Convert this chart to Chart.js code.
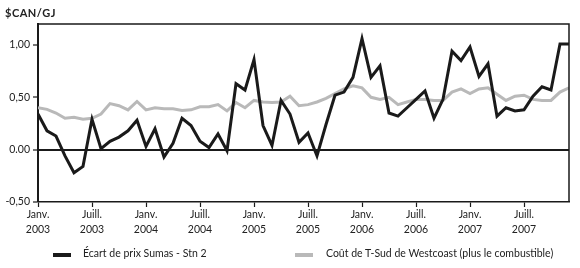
<!DOCTYPE html>
<html>
<head>
<meta charset="utf-8">
<script src="https://cdn.jsdelivr.net/npm/chart.js@4/dist/chart.umd.min.js"></script>
<style>
html,body{margin:0;padding:0;background:#fff;}
#wrap{position:relative;width:580px;height:268px;font-family:Lato,"DejaVu Sans",sans-serif;color:#222;}
#c{position:absolute;left:0;top:0;}
#ytitle{position:absolute;left:5px;top:6px;font-weight:bold;font-size:11px;letter-spacing:0.5px;color:#222;}
.leg{position:absolute;top:247px;font-size:10.5px;color:#222;white-space:nowrap;}
.sw{position:absolute;top:6px;width:18px;height:4px;}
</style>
</head>
<body>
<div id="wrap">
<canvas id="c" width="580" height="268"></canvas>
<div id="ytitle">$CAN/GJ</div>
<div class="leg" style="left:53px;"><span class="sw" style="left:0;background:#1a1a1a;"></span><span style="position:absolute;left:30px;top:0;" id="l1"></span></div>
<div class="leg" style="left:295px;"><span class="sw" style="left:0;background:#b9b9b9;"></span><span style="position:absolute;left:31px;top:0;" id="l2"></span></div>
</div>
<script>
// Month index 0 = Janv. 2003 ... 59 = Déc. 2007
const months = Array.from({length:60},(_,i)=>i);
const sumasSpread = [
  0.34,0.18,0.13,-0.06,-0.22,-0.16,0.29,0.01,0.08,0.12,
  0.18,0.28,0.03,0.20,-0.07,0.06,0.30,0.23,0.08,0.02,
  0.15,-0.01,0.63,0.57,0.86,0.23,0.04,0.47,0.34,0.07,
  0.16,-0.06,0.24,0.52,0.55,0.69,1.06,0.69,0.80,0.35,
  0.32,0.40,0.48,0.56,0.30,0.48,0.94,0.85,0.98,0.70,
  0.82,0.32,0.40,0.37,0.38,0.51,0.60,0.57,1.01,1.01
];
const westcoastCost = [
  0.40,0.385,0.35,0.30,0.31,0.29,0.30,0.34,0.44,0.42,
  0.38,0.46,0.38,0.40,0.39,0.39,0.375,0.38,0.41,0.41,
  0.43,0.37,0.45,0.40,0.47,0.455,0.45,0.455,0.51,0.42,
  0.43,0.455,0.49,0.535,0.58,0.61,0.59,0.50,0.48,0.50,
  0.43,0.455,0.48,0.48,0.47,0.47,0.55,0.58,0.535,0.58,
  0.59,0.53,0.47,0.51,0.52,0.48,0.47,0.47,0.55,0.59
];
const seriesNames = ["Écart de prix Sumas - Stn 2","Coût de T-Sud de Westcoast (plus le combustible)"];
const xTickPositions = [0,6,12,18,24,30,36,42,48,54];
const xTickLabels = [
  ["Janv.","2003"],["Juill.","2003"],["Janv.","2004"],["Juill.","2004"],["Janv.","2005"],
  ["Juill.","2005"],["Janv.","2006"],["Juill.","2006"],["Janv.","2007"],["Juill.","2007"]
];
const yTickValues = [-0.5,0,0.5,1.0];
const yTickLabels = ["-0,50","0.00","0,50","1,00"];

document.getElementById('l1').textContent = seriesNames[0];
document.getElementById('l2').textContent = seriesNames[1];

const frame = {
  id:'frame',
  afterDatasetsDraw(chart){
    const a = chart.chartArea, ctx = chart.ctx;
    ctx.save();
    ctx.strokeStyle = '#1a1a1a';
    ctx.lineWidth = 1.5;
    ctx.beginPath();
    ctx.moveTo(a.left, a.top); ctx.lineTo(a.right, a.top); ctx.lineTo(a.right, a.bottom);
    ctx.stroke();
    ctx.restore();
  }
};

const tickFont = {family:'Lato, "DejaVu Sans", sans-serif', size:10.5};
new Chart(document.getElementById('c'), {
  type:'line',
  data:{
    datasets:[
      {label:seriesNames[1], data:months.map((m,i)=>({x:m,y:westcoastCost[i]})), borderColor:'#b9b9b9', borderWidth:3, pointRadius:0, tension:0, order:2},
      {label:seriesNames[0], data:months.map((m,i)=>({x:m,y:sumasSpread[i]})), borderColor:'#1a1a1a', borderWidth:3, pointRadius:0, tension:0, order:1, borderJoinStyle:'miter'}
    ]
  },
  options:{
    responsive:false, animation:false,
    layout:{padding:{top:24,right:11,bottom:28,left:0}},
    plugins:{legend:{display:false}, tooltip:{enabled:false}},
    scales:{
      x:{
        type:'linear', min:0, max:59,
        afterBuildTicks(s){ s.ticks = xTickPositions.map(v=>({value:v})); },
        afterFit(s){ s.height = 38; },
        ticks:{ autoSkip:false, maxRotation:0, padding:1, color:'#222', font:{...tickFont, lineHeight:1.35},
          callback(v){ const k = xTickPositions.indexOf(v); return k>=0 ? xTickLabels[k] : ''; } },
        grid:{ drawOnChartArea:false, drawTicks:true, tickLength:5, tickColor:'#1a1a1a', tickWidth:1.2 },
        border:{ display:true, color:'#1a1a1a', width:1.5 }
      },
      y:{
        min:-0.5, max:1.2,
        afterBuildTicks(s){ s.ticks = yTickValues.map(v=>({value:v})); },
        afterFit(s){ s.width = 38; },
        ticks:{ padding:3, color:'#222', font:tickFont,
          callback(v){ const k = yTickValues.indexOf(v); return k>=0 ? yTickLabels[k] : ''; } },
        grid:{ drawTicks:true, tickLength:5, tickColor:'#1a1a1a', tickWidth:1.2,
          color(ctx){ return ctx.tick && ctx.tick.value===0 ? '#1a1a1a' : 'rgba(0,0,0,0)'; },
          lineWidth(ctx){ return ctx.tick && ctx.tick.value===0 ? 2 : 0; } },
        border:{ display:true, color:'#1a1a1a', width:2 }
      }
    }
  },
  plugins:[frame]
});
</script>
</body>
</html>
